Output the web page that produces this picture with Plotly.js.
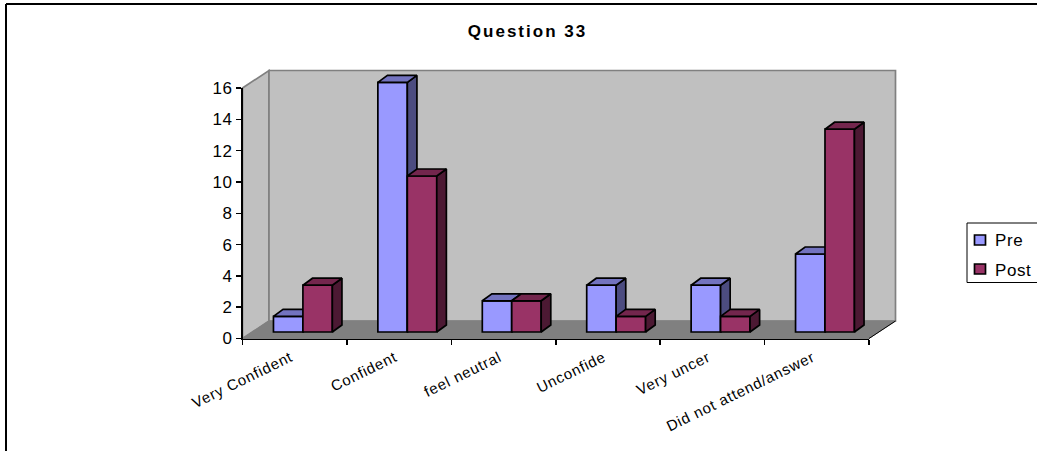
<!DOCTYPE html>
<html>
<head>
<meta charset="utf-8">
<script src="https://cdn.plot.ly/plotly-3.0.1.min.js"></script>
<style>
html,body{margin:0;padding:0;background:#fff;overflow:hidden}
.gtitle{letter-spacing:2px}
.xtick text{letter-spacing:0.8px}
.ytick text{letter-spacing:0.5px}
.annotation-text{letter-spacing:0.6px}
</style>
</head>
<body>
<div id="chart" style="width:1037px;height:451px"></div>
<script>
const categories = ["Very Confident", "Confident", "feel neutral", "Unconfide", "Very uncer", "Did not attend/answer"];
const preValues = [1, 16, 2, 3, 3, 5];
const postValues = [3, 10, 2, 1, 1, 13];
const yTicks = [0, 2, 4, 6, 8, 10, 12, 14, 16];
const seriesNames = ["Pre", "Post"];

const W = 1037, H = 451;
const FONT = '"Liberation Sans", Arial, sans-serif';
const px = x => x / W, py = y => 1 - y / H;
const path = pts => 'M' + pts.map(p => px(p[0]) + ' ' + py(p[1])).join(' L') + ' Z';

// plot frame in pixels
const L = 242.5, R = 869, Y0 = 338.5, Y16 = 88, DX = 26.5, DY = 17.5;
const catW = (R - L) / categories.length;

// bars' frame: shifted into the middle of the floor
const barLeft = L + 8.2, barBase = 332, unit = 15.6;
const barBottomVal = -1, barTopVal = 18;
const barDomainX = [px(barLeft), px(barLeft + catW * categories.length)];
const barDomainY = [py(barBase - barBottomVal * unit), py(barBase - barTopVal * unit)];

const barW = 0.282, depthX = 9.6 / catW, depthY = 7 / unit, edge = 1.7;
const centers = categories.map((_, i) => i + 0.5);
const labelPos = centers.map(c => c - 0.04);
const bounds = categories.map((_, i) => i).concat([categories.length]);

function faces(values, left) {
  const sx = [], sy = [], tx = [], ty = [];
  values.forEach((v, i) => {
    const xl = centers[i] + left, xr = xl + barW;
    sx.push(xr, xr + depthX, xr + depthX, xr, xr, null);
    sy.push(0, depthY, v + depthY, v, 0, null);
    tx.push(xl, xl + depthX, xr + depthX, xr, xl, null);
    ty.push(v, v + depthY, v + depthY, v, v, null);
  });
  return {sx, sy, tx, ty};
}

function series(name, values, left, front, top, side, xa, ya) {
  const f = faces(values, left);
  const poly = (x, y, color) => ({
    type: 'scatter', mode: 'lines', x, y, xaxis: xa, yaxis: ya, fill: 'toself', fillcolor: color,
    line: {color: '#000', width: edge}, hoverinfo: 'skip', showlegend: false
  });
  return [
    {type: 'bar', name, x: centers, y: values, xaxis: xa, yaxis: ya, offset: left, width: barW,
     marker: {color: front, line: {color: '#000', width: edge}}, showlegend: false},
    poly(f.sx, f.sy, side),
    poly(f.tx, f.ty, top)
  ];
}

const traces = [
  {type: 'scatter', x: [], y: [], xaxis: 'x', yaxis: 'y', showlegend: false, hoverinfo: 'skip'},
  ...series(seriesNames[0], preValues, -barW, '#9999FF', '#7373BF', '#4C4C80', 'x2', 'y2'),
  ...series(seriesNames[1], postValues, 0, '#993366', '#73264D', '#4C1933', 'x3', 'y3')
];

const hidden = (extra) => Object.assign({visible: false, fixedrange: true}, extra);

const shapes = [
  // side wall, back wall, floor
  {type: 'path', xref: 'paper', yref: 'paper', layer: 'below', path: path([[L, Y0], [L + DX, Y0 - DY], [L + DX, Y16 - DY], [L, Y16]]),
   fillcolor: '#C0C0C0', line: {color: '#808080', width: 1.7}},
  {type: 'path', xref: 'paper', yref: 'paper', layer: 'below', path: path([[L + DX, Y16 - DY], [R + DX, Y16 - DY], [R + DX, Y0 - DY], [L + DX, Y0 - DY]]),
   fillcolor: '#C0C0C0', line: {color: '#808080', width: 1.7}},
  {type: 'path', xref: 'paper', yref: 'paper', layer: 'below', path: path([[L, Y0], [R, Y0], [R + DX, Y0 - DY], [L + DX, Y0 - DY]]),
   fillcolor: '#808080', line: {color: '#808080', width: 1}},
  {type: 'line', xref: 'paper', yref: 'paper', layer: 'below', x0: px(R), y0: py(Y0), x1: px(R + DX), y1: py(Y0 - DY), line: {color: '#000', width: 1}},
  // outer frame
  {type: 'line', xref: 'paper', yref: 'paper', x0: px(6), y0: py(4), x1: px(6), y1: py(H), line: {color: '#000', width: 2}},
  {type: 'line', xref: 'paper', yref: 'paper', x0: px(6), y0: py(4), x1: 1, y1: py(4), line: {color: '#000', width: 2}},
  // legend box and swatches
  {type: 'rect', xref: 'paper', yref: 'paper', x0: px(967), y0: py(223), x1: px(1060), y1: py(282.5), fillcolor: '#fff', line: {color: '#000', width: 1}},
  {type: 'rect', xref: 'paper', yref: 'paper', x0: px(974.5), y0: py(235), x1: px(985.5), y1: py(245), fillcolor: '#9999FF', line: {color: '#000', width: 1.7}},
  {type: 'rect', xref: 'paper', yref: 'paper', x0: px(974.5), y0: py(264), x1: px(985.5), y1: py(274), fillcolor: '#993366', line: {color: '#000', width: 1.7}}
];

const legendText = (t, y) => ({text: t, xref: 'paper', yref: 'paper', x: px(994), y: py(y), xanchor: 'left', yanchor: 'middle',
  showarrow: false, align: 'left', borderpad: 0, font: {family: FONT, size: 17, color: '#000'}});

const layout = {
  width: W, height: H, autosize: false,
  margin: {l: 0, r: 0, t: 0, b: 0},
  paper_bgcolor: '#fff', plot_bgcolor: 'rgba(0,0,0,0)',
  showlegend: false, hovermode: false, bargap: 0,
  title: {text: '<b>Question 33</b>', x: px(527.5), xref: 'paper', xanchor: 'center', y: py(31), yref: 'paper', yanchor: 'middle',
          font: {family: FONT, size: 17, color: '#000'}},
  xaxis: {domain: [px(L), px(R)], range: [0, categories.length], anchor: 'y', fixedrange: true,
          tickmode: 'array', tickvals: labelPos, ticktext: categories, ticks: '', tickangle: -26, ticklabelstandoff: 3,
          tickfont: {family: FONT, size: 15, color: '#000'},
          showgrid: false, zeroline: false, showline: true, linecolor: '#000', linewidth: 1.7,
          minor: {tickmode: 'array', tickvals: bounds, ticks: 'outside', ticklen: 5, tickwidth: 1.5, tickcolor: '#000', showgrid: false}},
  yaxis: {domain: [py(Y0), py(Y16)], range: [0, 16], anchor: 'x', fixedrange: true,
          tickmode: 'array', tickvals: yTicks, ticks: 'outside', ticklen: 5, tickwidth: 1.5, tickcolor: '#000',
          tickfont: {family: FONT, size: 17, color: '#000'},
          showgrid: false, zeroline: false, showline: true, linecolor: '#000', linewidth: 1.7},
  xaxis2: hidden({domain: barDomainX, range: [0, categories.length], anchor: 'y2'}),
  yaxis2: hidden({domain: barDomainY, range: [barBottomVal, barTopVal], anchor: 'x2'}),
  xaxis3: hidden({range: [0, categories.length], overlaying: 'x2', anchor: 'y3', domain: barDomainX}),
  yaxis3: hidden({range: [barBottomVal, barTopVal], overlaying: 'y2', anchor: 'x3', domain: barDomainY}),
  shapes,
  annotations: [legendText(seriesNames[0], 240.5), legendText(seriesNames[1], 270)]
};

Plotly.newPlot('chart', traces, layout, {displayModeBar: false, staticPlot: true});
</script>
</body>
</html>
